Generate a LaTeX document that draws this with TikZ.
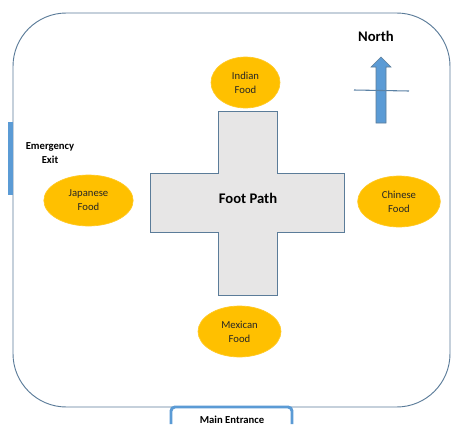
\documentclass[tikz,border=0pt]{standalone}
\usepackage{fontspec}
\setmainfont{Carlito}
\usetikzlibrary{shapes.geometric,shapes.arrows}
\definecolor{edgeblue}{HTML}{5B7C99}
\definecolor{barblue}{HTML}{5B9BD5}
\definecolor{foodfill}{HTML}{FFC000}
\definecolor{pathfill}{HTML}{E7E6E6}
\tikzset{
  x=0.75pt,y=-0.75pt,
  food/.style={ellipse,fill=foodfill,draw=foodfill!85!white,line width=0.5pt,inner sep=0pt,minimum width=#1,align=center,font=\fontsize{8pt}{10.5pt}\selectfont,text=black!85,execute at begin node={\rule{0pt}{9pt}}},
  title/.style={font=\bfseries\fontsize{8pt}{11pt}\selectfont,align=center,inner sep=0pt},
  big/.style={font=\bfseries\fontsize{11pt}{13pt}\selectfont,inner sep=0pt},
  outline/.style={draw=edgeblue,line width=0.7pt},
  bar/.style={draw=barblue,line width=2.2pt}
}
\begin{document}
\begin{tikzpicture}
\useasboundingbox (0,0) rectangle (465,436);
\fill[white] (0,0) rectangle (465,436);
% site outline
\draw[outline,rounded corners=40pt] (13,13) rectangle (450,407);
% foot path cross
\draw[outline,fill=pathfill] (218,111) -- (277,111) -- (277,173) -- (344,173) -- (344,232) -- (277,232) -- (277,295) -- (218,295) -- (218,232) -- (150,232) -- (150,173) -- (218,173) -- cycle;
\node[big] (foot) at (248,198) {Foot Path};
% food stalls
\node[food,minimum width=51.75pt,minimum height=38.25pt] (indian) at (245.5,82.5) {Indian\\Food};
\node[food,minimum width=67pt,minimum height=38.25pt] (japanese) at (88.5,200.5) {Japanese\\Food};
\node[food,minimum width=62pt,minimum height=38.25pt] (chinese) at (399,201.5) {Chinese\\Food};
\node[food,minimum width=62.25pt,minimum height=38.25pt] (mexican) at (239.5,331.5) {Mexican\\Food};
% north arrow
\node[big] (north) at (376,36) {North};
\fill[barblue,draw=edgeblue,line width=0.4pt] (376,123) -- (386,123) -- (386,67) -- (391,67) -- (381,57) -- (371,67) -- (376,67) -- cycle;
\coordinate (compassW) at (354,90);
\coordinate (compassE) at (409,91);
\draw[draw=edgeblue!80!barblue,line width=0.8pt] (compassW) -- (compassE);
% emergency exit
\coordinate (exitT) at (10.5,122);
\coordinate (exitB) at (10.5,195);
\draw[draw=barblue,line width=3.4pt] (exitT) -- (exitB);
\node[title] (exit) at (50,153) {Emergency\\Exit};
% main entrance
\fill[white] (171,408) rectangle (292,436);
\draw[bar,rounded corners=3pt] (171,424) -- (171,407) -- (292,407) -- (292,424);
\node[title] (entrance) at (232,420) {Main Entrance};
\end{tikzpicture}
\end{document}
